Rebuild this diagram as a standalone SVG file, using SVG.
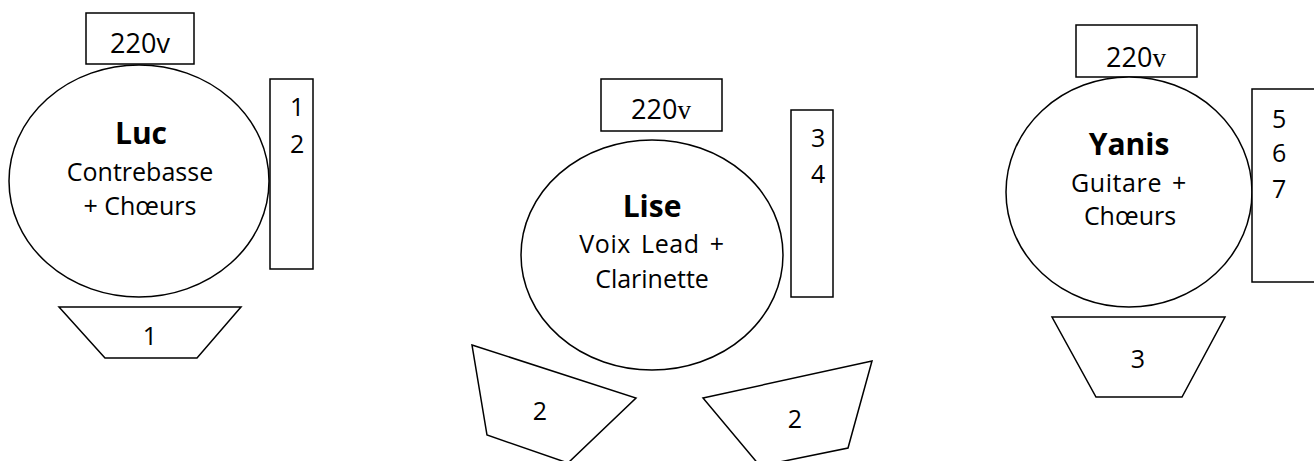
<svg xmlns="http://www.w3.org/2000/svg" width="1314" height="461" viewBox="0 0 1314 461">
<style>
.s{fill:#fff;stroke:#000;stroke-width:1.5}
text{font-family:"Open Sans","DejaVu Sans",sans-serif;fill:#000}
.n{font-size:30px;font-weight:700;text-anchor:middle}
.l{font-size:25px;text-anchor:middle}
.w{word-spacing:3px;letter-spacing:0.6px}
.p{font-size:27px;text-anchor:middle}
.d{font-size:25px}
.v{font-family:"Liberation Serif",serif}
</style>
<rect width="1314" height="461" fill="#fff"/>
<g id="luc">
<rect class="s" x="86" y="13" width="108" height="51"/>
<text class="p" x="140" y="53">220v</text>
<ellipse class="s" cx="139" cy="181" rx="130" ry="116"/>
<text class="n" x="141" y="144">Luc</text>
<text class="l" x="140" y="181">Contrebasse</text>
<text class="l" x="140" y="215">+ Chœurs</text>
<rect class="s" x="270" y="79" width="43" height="190"/>
<text class="d" x="290" y="116">1</text>
<text class="d" x="290" y="153">2</text>
<polygon class="s" points="59,307 241,307 197,358 105,358"/>
<text class="l" x="150" y="345">1</text>
</g>
<g id="lise">
<rect class="s" x="601" y="79" width="121" height="52"/>
<text class="p" x="661" y="119">220<tspan class="v">v</tspan></text>
<ellipse class="s" cx="652" cy="255" rx="131" ry="115"/>
<text class="n" x="652" y="217">Lise</text>
<text class="l w" x="652" y="253">Voix Lead +</text>
<text class="l" x="652" y="288">Clarinette</text>
<rect class="s" x="791" y="110" width="42" height="187"/>
<text class="d" x="811" y="147">3</text>
<text class="d" x="811" y="183">4</text>
<polygon class="s" points="472,345 636,398 568,463 487,435"/>
<text class="l" x="540" y="420">2</text>
<polygon class="s" points="703,398 872,361 848,448 760,466"/>
<text class="l" x="795" y="428">2</text>
</g>
<g id="yanis">
<rect class="s" x="1076" y="25" width="121" height="52"/>
<text class="p" x="1136" y="67">220<tspan class="v">v</tspan></text>
<ellipse class="s" cx="1129" cy="192" rx="123" ry="115"/>
<text class="n" x="1129" y="155">Yanis</text>
<text class="l w" x="1129" y="192">Guitare +</text>
<text class="l" x="1130" y="225">Chœurs</text>
<rect class="s" x="1252" y="89" width="70" height="193"/>
<text class="d" x="1272" y="128">5</text>
<text class="d" x="1272" y="162">6</text>
<text class="d" x="1272" y="198">7</text>
<polygon class="s" points="1052,317 1225,317 1182,397 1096,397"/>
<text class="l" x="1138" y="368">3</text>
</g>
<g id="connectors"/>
</svg>
